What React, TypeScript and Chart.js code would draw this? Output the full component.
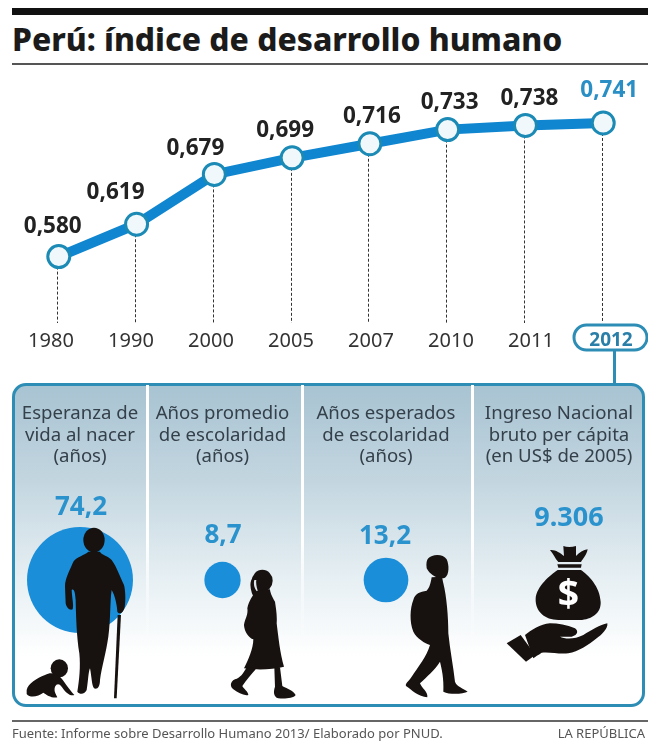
import { useEffect, useRef } from "react";
import { Chart, registerables } from "chart.js";

Chart.register(...registerables);

const years = ["1980", "1990", "2000", "2005", "2007", "2010", "2011", "2012"];
const hdiValues = [0.58, 0.619, 0.679, 0.699, 0.716, 0.733, 0.738, 0.741];

const indicatorNames = [
  ["Esperanza de", "vida al nacer", "(años)"],
  ["Años promedio", "de escolaridad", "(años)"],
  ["Años esperados", "de escolaridad", "(años)"],
  ["Ingreso Nacional", "bruto per cápita", "(en US$ de 2005)"],
];
const indicatorLabels = ["74,2", "8,7", "13,2", "9.306"];
const bubbleValues = [74.2, 8.7, 13.2];

// Per-label nudges that keep the values clear of the rising line.
const labelNudgeX = [-6, -21, -19, -7, 2, 2, 4, 6];
const labelNudgeY = [-30, -32, -26, -27, -27, -27, -27, -32];

const FONT = '"Noto Sans", sans-serif';
const BLUE = "#0f86cf";
const TEAL = "#2e8db5";
const LABEL_BLUE = "#2a8fc4";

const panelColumns = [
  { left: 14, width: 132 },
  { left: 145, width: 155 },
  { left: 301, width: 170 },
  { left: 473, width: 172 },
];
const valueCentres = [81, 223, 385, 569];
const valueTops = [505, 533, 534, 516];

const stemsAndLabels = {
  id: "stemsAndLabels",
  beforeDatasetsDraw(chart: any) {
    const { ctx } = chart;
    const bottom = chart.scales.y.bottom;
    const points = chart.getDatasetMeta(0).data;
    ctx.save();
    ctx.strokeStyle = "#333";
    ctx.lineWidth = 1;
    ctx.setLineDash([3, 2]);
    points.forEach((p: any) => {
      const x = Math.round(p.x - 1.5) + 0.5;
      ctx.beginPath();
      ctx.moveTo(x, p.y);
      ctx.lineTo(x, bottom);
      ctx.stroke();
    });
    ctx.restore();
  },
  afterDatasetsDraw(chart: any) {
    const { ctx } = chart;
    const points = chart.getDatasetMeta(0).data;
    ctx.save();
    ctx.font = `700 22.5px ${FONT}`;
    ctx.textAlign = "center";
    ctx.textBaseline = "middle";
    points.forEach((p: any, i: number) => {
      ctx.fillStyle = i === points.length - 1 ? LABEL_BLUE : "#222";
      ctx.fillText(hdiValues[i].toFixed(3).replace(".", ","), p.x + labelNudgeX[i], p.y + labelNudgeY[i]);
    });
    // Rounded outline around the highlighted year.
    const scale = chart.scales.xYear;
    const cx = scale.getPixelForTick(years.length - 1);
    ctx.strokeStyle = TEAL;
    ctx.lineWidth = 3;
    ctx.beginPath();
    ctx.roundRect(cx - 37, 325, 73, 25, 12.5);
    ctx.stroke();
    ctx.restore();
  },
};

function TrendChart() {
  const ref = useRef<HTMLCanvasElement>(null);
  useEffect(() => {
    const chart = new Chart(ref.current!, {
      type: "line",
      data: {
        labels: years,
        datasets: [
          {
            data: years.map((_, i) => ({ x: i, y: hdiValues[i] })),
            borderColor: BLUE,
            borderWidth: 10,
            pointRadius: 11,
            pointBorderWidth: 3,
            pointBackgroundColor: "#f0f8fb",
            pointBorderColor: "#1b8ab5",
            tension: 0,
            clip: false,
          } as any,
        ],
      },
      options: {
        animation: false,
        responsive: false,
        events: [],
        layout: { padding: { left: 51, right: 37, top: 74, bottom: 8 } },
        plugins: { legend: { display: false }, tooltip: { enabled: false } },
        scales: {
          x: { type: "linear", display: false, min: -0.1, max: 7.1 },
          xYear: {
            type: "category",
            position: "bottom",
            labels: years,
            offset: false,
            border: { display: false },
            grid: { display: false, drawTicks: false },
            ticks: {
              padding: 6,
              autoSkip: false,
              maxRotation: 0,
              color: (c: any) => (c.index === years.length - 1 ? "#2a7fa8" : "#333"),
              font: (c: any) => ({
                family: "Noto Sans",
                size: c.index === years.length - 1 ? 19 : 20,
                weight: c.index === years.length - 1 ? "bold" : "normal",
              }),
            },
          },
          y: { display: false, min: 0.5, max: 0.8 },
        },
      } as any,
      plugins: [stemsAndLabels],
    });
    return () => chart.destroy();
  }, []);
  return <canvas ref={ref} width={648} height={367} style={{ position: "absolute", left: 0, top: 0 }} />;
}

// One area-scaled circle, centred in its column.
function IndicatorBubble({ value, left, width }: { value: number; left: number; width: number }) {
  const ref = useRef<HTMLCanvasElement>(null);
  useEffect(() => {
    const chart = new Chart(ref.current!, {
      type: "bubble",
      data: {
        labels: [String(value)],
        datasets: [
          {
            data: [{ x: String(value), y: 0, r: Math.sqrt(value) * 6.15 }],
            backgroundColor: "#1a8ed8",
            borderWidth: 0,
            clip: false,
          } as any,
        ],
      },
      options: {
        animation: false,
        responsive: false,
        events: [],
        plugins: { legend: { display: false }, tooltip: { enabled: false } },
        scales: {
          x: { type: "category", display: false, offset: true },
          y: { display: false, min: -1, max: 1 },
        },
      } as any,
    });
    return () => chart.destroy();
  }, [value]);
  return <canvas ref={ref} width={width} height={120} style={{ position: "absolute", left, top: 520 }} />;
}

// Silhouettes traced at three times their drawn size.
function Silhouettes() {
  return (
    <svg width={648} height={742} style={{ position: "absolute", left: 0, top: 0 }}>
      {/* Elderly woman with a cane, and a crawling baby */}
      <g transform="translate(20 520) scale(0.3333)" fill="#17110f">
        <ellipse cx={222} cy={60} rx={32} ry={37} />
        <path d="M205 95 C195 105 170 110 160 125 C150 150 135 175 135 200 L137 250 C140 265 150 272 158 268 C162 255 156 235 155 210 C162 205 165 215 167 240 C168 290 170 350 178 400 C182 440 178 480 172 515 C180 525 195 522 200 510 C205 480 205 455 210 445 C215 470 215 495 222 505 C232 510 240 500 240 480 C245 440 258 400 265 350 C272 300 270 240 275 210 C285 225 292 260 292 275 C298 285 310 280 314 262 C318 240 316 210 312 195 C300 170 290 140 275 120 C265 108 245 105 240 95 Z" />
        <path d="M293 285 L303 285 L290 535 L282 535 Z" />
        <ellipse cx={118} cy={445} rx={26} ry={27} />
        <path d="M20 510 C25 490 50 475 75 465 C95 455 105 462 120 470 C130 480 145 505 163 525 C150 530 135 515 125 500 C118 490 110 490 105 500 C100 515 110 525 112 532 C95 535 80 525 70 518 C55 530 30 535 20 522 Z" />
      </g>
      {/* Girl walking with a ponytail */}
      <g transform="translate(225 560) scale(0.3333)" fill="#17110f">
        <ellipse cx={112} cy={62} rx={31} ry={33} />
        <path d="M85 50 C70 65 75 100 95 125 L105 125 C90 100 95 75 100 55 Z" />
        <path d="M88 60 C84 75 90 90 100 98 C96 85 92 72 94 60 Z" fill="#dfe7ec" />
        <path d="M95 92 C85 105 72 120 67 145 C70 165 60 175 57 195 C58 215 72 235 85 238 C85 265 70 300 57 325 C90 330 140 330 177 320 C165 280 160 230 155 190 C157 165 152 140 150 125 C140 110 135 95 135 88 Z" />
        <path d="M65 322 C55 340 45 355 30 358 C15 365 14 380 25 388 C40 398 55 408 70 405 C70 395 55 385 52 378 C65 360 80 340 95 325 Z" />
        <path d="M148 322 L150 380 C145 395 145 410 160 415 C180 417 205 415 212 405 C205 392 185 385 172 378 L165 322 Z" />
      </g>
      {/* Boy with a backpack */}
      <g transform="translate(400 550) scale(0.3333)" fill="#17110f">
        <path d="M85 25 C95 12 130 10 140 28 C148 45 148 75 135 83 C115 90 90 75 80 55 C78 40 80 30 85 25 Z" />
        <path d="M95 82 C92 100 88 115 80 122 C60 125 45 130 40 150 C30 175 28 215 40 245 C50 265 75 280 90 285 C80 320 55 350 35 380 C25 395 15 400 18 408 C35 420 55 440 82 442 C85 425 65 415 60 400 C80 380 105 360 120 335 C125 355 132 385 130 425 C150 435 190 432 203 425 C190 415 170 410 165 395 C160 350 150 300 145 250 C145 200 140 140 130 100 C128 92 128 85 125 80 Z" />
      </g>
      {/* Money bag resting on an open hand */}
      <g transform="translate(500 540) scale(0.3333)" fill="#17110f">
        <path d="M150 30 C165 28 180 38 192 48 L190 18 C200 22 215 22 228 18 L228 48 C238 38 250 30 263 28 C260 45 250 55 243 66 L175 66 C165 55 160 42 150 30 Z" />
        <path d="M172 73 L245 73 L243 83 L175 83 Z" />
        <path d="M173 90 L243 90 C265 105 300 140 302 185 C304 220 275 238 240 240 L175 240 C135 240 105 215 107 175 C110 140 150 105 173 90 Z" />
        <path d="M75 285 C95 270 120 252 150 250 C175 250 200 255 225 265 C235 272 235 285 215 290 L180 290 C195 298 225 298 250 285 C275 270 300 255 322 250 C325 265 305 285 290 295 C265 315 235 335 205 340 C175 343 150 335 125 338 C115 345 105 350 100 355 Z" />
        <path d="M20 310 L62 285 L106 345 L78 365 Z" />
        <text x={205} y={201} textAnchor="middle" fill="#fff" fontFamily="Noto Sans" fontWeight={700} fontSize={112}>$</text>
      </g>
    </svg>
  );
}

const abs = (s: React.CSSProperties): React.CSSProperties => ({ position: "absolute", ...s });

export default function App() {
  return (
    <div style={abs({ left: 0, top: 0, width: 648, height: 742, background: "#fff", overflow: "hidden", fontFamily: FONT })}>
      <div style={abs({ left: 12, right: 0, top: 8, height: 7, background: "#111" })} />
      <div style={abs({ left: 12, top: 19, fontSize: 31.8, lineHeight: "40px", fontWeight: 800, color: "#1b1b1b", whiteSpace: "nowrap" })}>
        Perú: índice de desarrollo humano
      </div>
      <div style={abs({ left: 12, right: 0, top: 63, height: 2, background: "#555" })} />

      <TrendChart />

      <div style={abs({ left: 613, top: 350, width: 3, height: 34, background: TEAL })} />
      <div
        style={abs({
          left: 12,
          top: 383,
          width: 633,
          height: 324,
          boxSizing: "border-box",
          border: `3px solid ${TEAL}`,
          borderRadius: 14,
          background: "linear-gradient(#a8c3d2 0%, #c3d6e0 30%, #e6eff3 60%, #ffffff 85%)",
        })}
      />
      {[146, 301, 471].map((x) => (
        <div key={x} style={abs({ left: x, top: 385, width: 3, height: 260, background: "linear-gradient(#fff 60%, rgba(255,255,255,0))" })} />
      ))}

      {bubbleValues.map((v, i) => (
        <IndicatorBubble key={v} value={v} left={panelColumns[i].left} width={panelColumns[i].width} />
      ))}
      <Silhouettes />

      {indicatorNames.map((lines, i) => (
        <div
          key={i}
          style={abs({
            left: panelColumns[i].left - 6,
            width: panelColumns[i].width + 12,
            top: 401,
            fontSize: 18.6,
            lineHeight: "21.5px",
            textAlign: "center",
            color: "#34404a",
            whiteSpace: "nowrap",
          })}
        >
          {lines.map((l) => (
            <div key={l}>{l}</div>
          ))}
        </div>
      ))}
      {indicatorLabels.map((t, i) => (
        <div
          key={t}
          style={abs({
            left: valueCentres[i] - 60,
            width: 120,
            top: valueTops[i] - 20,
            height: 40,
            lineHeight: "40px",
            textAlign: "center",
            fontWeight: 700,
            fontSize: i === 3 ? 27 : 26,
            color: "#2a92cc",
          })}
        >
          {t}
        </div>
      ))}

      <div style={abs({ left: 12, right: 0, top: 720, height: 2, background: "#666" })} />
      <div style={abs({ left: 12, top: 725, fontSize: 13, lineHeight: "17px", color: "#555", whiteSpace: "nowrap" })}>
        Fuente: Informe sobre Desarrollo Humano 2013/ Elaborado por PNUD.
      </div>
      <div style={abs({ right: 3, top: 725, fontSize: 13, lineHeight: "17px", color: "#555", whiteSpace: "nowrap" })}>LA REPÚBLICA</div>
    </div>
  );
}
